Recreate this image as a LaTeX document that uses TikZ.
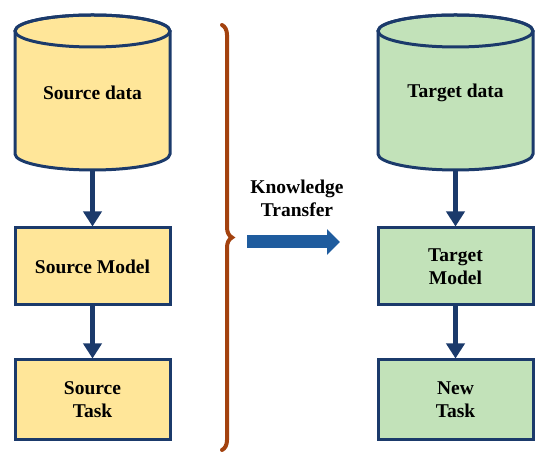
\documentclass[tikz,border=0pt]{standalone}
\usepackage{fontspec}
\newfontfamily\tnrb{LiberationSerif-Bold.ttf}
\usetikzlibrary{arrows.meta,decorations.pathreplacing}
\definecolor{srcfill}{HTML}{FFE699}
\definecolor{tgtfill}{HTML}{C2E2B9}
\definecolor{navy}{HTML}{1B3A6B}
\definecolor{kblue}{HTML}{1F5C9E}
\definecolor{bracec}{HTML}{A3420F}
\tikzset{
  lbl/.style={font=\tnrb\fontsize{19.5}{23}\selectfont, align=center, text=black},
  cylnode/.style={lbl, minimum width=155pt, minimum height=155pt, inner sep=0pt},
  boxnode/.style={lbl, draw=navy, line width=3pt, minimum width=155pt, inner sep=0pt},
  cylline/.style={draw=navy, line width=3pt},
  flow/.style={draw=navy, line width=5.5pt, -{Triangle[length=15pt,width=18pt]}},
  ktarrow/.style={draw=kblue, line width=13pt, -{Triangle[length=13pt,width=25pt]}},
  bracestyle/.style={draw=bracec, line width=4pt, line cap=round, decorate, decoration={brace, amplitude=10pt}}
}
\begin{document}
\begin{tikzpicture}[x=1pt,y=1pt]
\useasboundingbox (0,0) rectangle (550,465);
% source cylinder
\path[cylline, fill=srcfill] (15,434) -- (15,311) arc[start angle=180, end angle=360, x radius=77.5, y radius=16] -- (170,434) arc[start angle=0, end angle=180, x radius=77.5, y radius=16] -- cycle;
\draw[cylline] (92.5,434) ellipse[x radius=77.5, y radius=16];
\node[cylnode] (sd) at (92.5,372.5) {Source data};
% target cylinder
\path[cylline, fill=tgtfill] (378,434) -- (378,311) arc[start angle=180, end angle=360, x radius=77.5, y radius=16] -- (533,434) arc[start angle=0, end angle=180, x radius=77.5, y radius=16] -- cycle;
\draw[cylline] (455.5,434) ellipse[x radius=77.5, y radius=16];
\node[cylnode] (td) at (455.5,372.5) {Target data};
% boxes
\node[boxnode, fill=srcfill, minimum height=77pt] (sm) at (92.5,198.5) {Source Model};
\node[boxnode, fill=srcfill, minimum height=80pt] (st) at (92.5,65) {Source\\Task};
\node[boxnode, fill=tgtfill, minimum height=77pt] (tm) at (455.5,198.5) {Target\\Model};
\node[boxnode, fill=tgtfill, minimum height=80pt] (nt) at (455.5,65) {New\\Task};
% flows
\draw[flow] (sd.south) -- (sm.north);
\draw[flow] (sm.south) -- (st.north);
\draw[flow] (td.south) -- (tm.north);
\draw[flow] (tm.south) -- (nt.north);
% brace
\coordinate (bt) at (222,440);
\coordinate (bb) at (222,15);
\draw[bracestyle] (bt) -- (bb);
% knowledge transfer
\node[lbl] (kt) at (297,266.5) {Knowledge\\Transfer};
\coordinate (kta) at (247,223);
\coordinate (ktb) at (340,223);
\draw[ktarrow] (kta) -- (ktb);
\end{tikzpicture}
\end{document}
